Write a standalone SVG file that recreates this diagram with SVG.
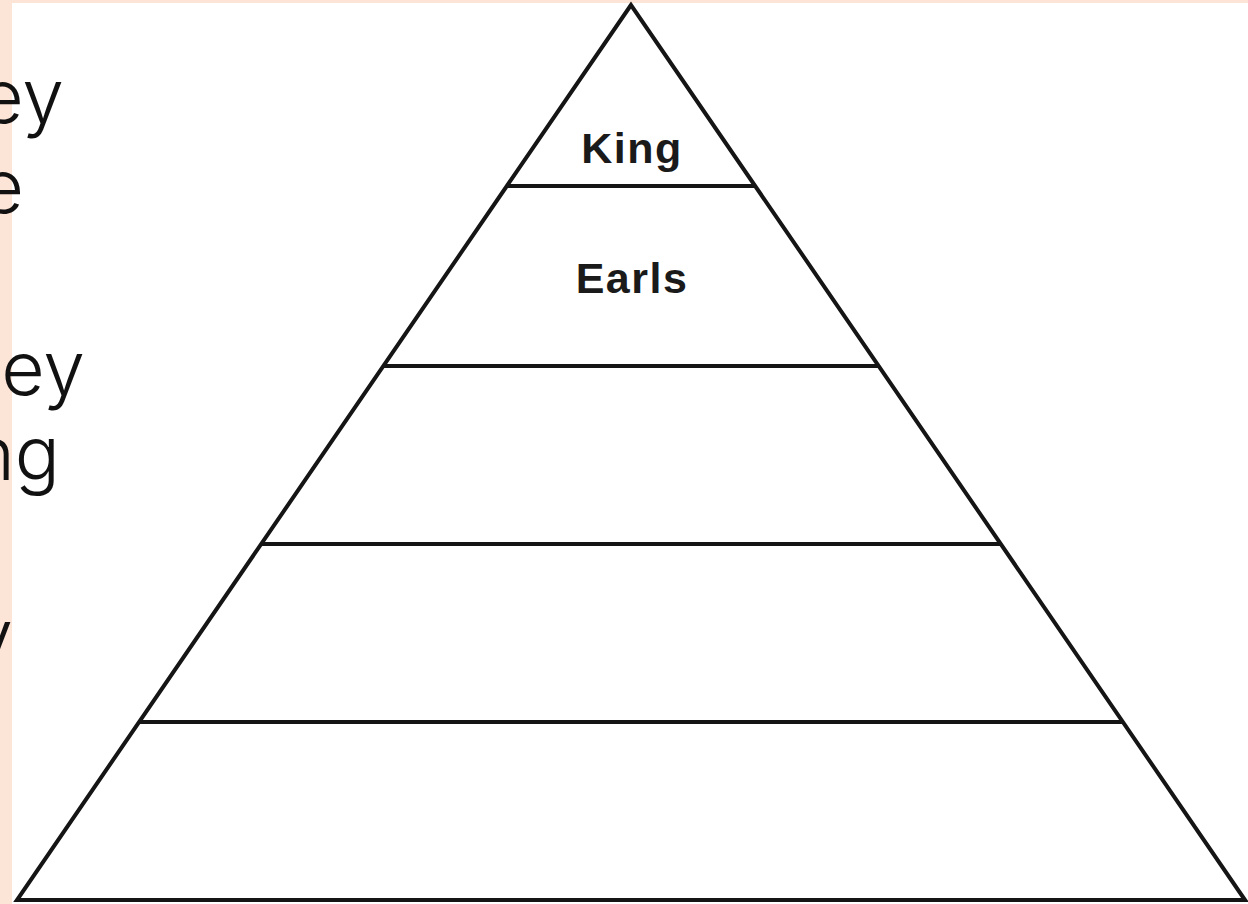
<svg xmlns="http://www.w3.org/2000/svg" width="1248" height="904" viewBox="0 0 1248 904">
<style>
.ln{stroke:#151515;stroke-width:4;fill:none;stroke-linecap:butt;stroke-linejoin:miter}
.lbl{font-family:"Liberation Sans",Arial,sans-serif;font-weight:bold;font-size:43px;letter-spacing:1.5px;fill:#1a1a1a;text-anchor:middle}
.side{font-family:Inter,"Open Sans","Liberation Sans",sans-serif;font-weight:300;font-size:75px;fill:#111;text-anchor:end}
</style>
<rect x="0" y="0" width="1248" height="904" fill="#FCE4D7"/>
<rect x="12" y="3" width="1236" height="901" fill="#ffffff"/>
<g id="side-text">
<text class="side" x="64" y="123">ey</text>
<text class="side" x="24" y="213">e</text>
<text class="side" x="85" y="395">ey</text>
<text class="side" x="60" y="480">ng</text>
<text class="side" x="13" y="663">y</text>
</g>
<g id="pyramid">
<polygon class="ln" points="631,5 17,900 1245,900"/>
</g>
<g id="connectors">
<line class="ln" x1="507" y1="186" x2="755" y2="186"/>
<line class="ln" x1="384" y1="366" x2="878" y2="366"/>
<line class="ln" x1="262" y1="544" x2="1000" y2="544"/>
<line class="ln" x1="140" y1="722" x2="1122" y2="722"/>
</g>
<g id="tier-king"><text class="lbl" x="632" y="163">King</text></g>
<g id="tier-earls"><text class="lbl" x="632" y="293">Earls</text></g>
</svg>
